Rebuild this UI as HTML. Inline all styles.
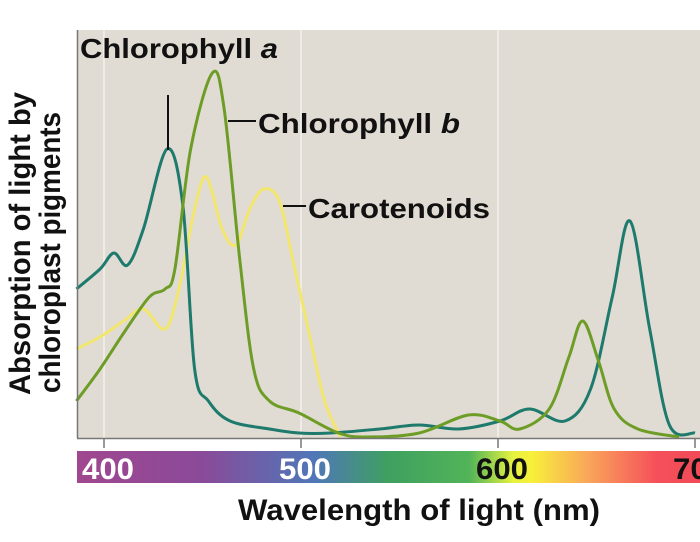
<!DOCTYPE html>
<html><head><meta charset="utf-8"><style>
body{margin:0;background:#fff;width:700px;height:537px;overflow:hidden}
text{font-family:"Liberation Sans",sans-serif;font-weight:bold}
</style></head><body>
<svg id="chart" width="700" height="537" viewBox="0 0 700 537" xmlns="http://www.w3.org/2000/svg">
<defs>
<linearGradient id="spec" x1="0" x2="1" y1="0" y2="0">
<stop offset="0" stop-color="#a0478f"/><stop offset="0.2" stop-color="#8a4a99"/><stop offset="0.38" stop-color="#4f77b8"/><stop offset="0.5" stop-color="#3fa060"/><stop offset="0.63" stop-color="#52b458"/><stop offset="0.7" stop-color="#e6f240"/><stop offset="0.73" stop-color="#f7f03a"/><stop offset="0.82" stop-color="#f9a65a"/><stop offset="0.93" stop-color="#f5505a"/><stop offset="1" stop-color="#f24a58"/>
</linearGradient>
</defs>
<rect x="77" y="30" width="623" height="408" fill="#e1dcd3"/>
<g id="grid"></g>
<g id="series"></g>
<line x1="77.5" y1="30" x2="77.5" y2="438" stroke="#777" stroke-width="1.5"/>
<line x1="77" y1="438.5" x2="700" y2="438.5" stroke="#777" stroke-width="1.5"/>
<rect x="77" y="451" width="623" height="32" fill="url(#spec)"/>
<g id="ticks"></g>
<text x="238" y="520" font-size="30" textLength="362" lengthAdjust="spacingAndGlyphs" fill="#111">Wavelength of light (nm)</text>
<g transform="translate(0,0) rotate(-90)">
<text x="-395" y="30" font-size="30" textLength="303" lengthAdjust="spacingAndGlyphs" fill="#111">Absorption of light by</text>
<text x="-393" y="60" font-size="30" textLength="281" lengthAdjust="spacingAndGlyphs" fill="#111">chloroplast pigments</text>
</g>
<text x="80" y="58" font-size="28" textLength="198" lengthAdjust="spacingAndGlyphs" fill="#111">Chlorophyll <tspan font-style="italic">a</tspan></text>
<line x1="168" y1="95" x2="168" y2="150" stroke="#111" stroke-width="2"/>
<text x="258" y="133" font-size="28" textLength="202" lengthAdjust="spacingAndGlyphs" fill="#111">Chlorophyll <tspan font-style="italic">b</tspan></text>
<line x1="228" y1="121" x2="256" y2="121" stroke="#111" stroke-width="2"/>
<text x="308" y="218" font-size="28" textLength="182" lengthAdjust="spacingAndGlyphs" fill="#111">Carotenoids</text>
<line x1="283" y1="206" x2="306" y2="206" stroke="#111" stroke-width="2"/>
</svg>
<script>
const tickValues=[400,500,600,700];
const tickColors=["#fff","#fff","#111","#111"];
const chlAnm=[386,398,405,412,420,432,440,446,453,464,484,499,515,540,560,580,601,616,634,647,658,667,677,687,700];
const chlAval=[37,42,46,43,52,72,58,17,9,4,2,1,1,2,3,2,4,7,4,12,35,54,27,3,1];
const chlBnm=[386,398,410,423,431,436,444,455,461,469,476,484,499,519,534,560,585,601,611,626,636,643,651,659,671,692];
const chlBval=[9,17,26,35,37,42,72,91,82,44,17,9,6,1,0,1,5.5,4,2,7,20,29,19,7,2,0];
const carNm=[386,398,410,420,431,438,446,452,460,467,474,481,489,496,505,512,520];
const carVal=[22,25,29,32,27,37,57,65,52,48,57,62,59,44,24,9,0];
const NS="http://www.w3.org/2000/svg";
const xS=nm=>104+(nm-400)*1.97;
const yS=v=>437-v*4;
function smooth(xs,ys){
  const p=xs.map((x,i)=>[xS(x),yS(ys[i])]);
  let d="M"+p[0][0]+","+p[0][1];
  for(let i=0;i<p.length-1;i++){
    const a=p[Math.max(i-1,0)],b=p[i],c=p[i+1],e=p[Math.min(i+2,p.length-1)];
    const c1=[b[0]+(c[0]-a[0])/6,b[1]+(c[1]-a[1])/6],c2=[c[0]-(e[0]-b[0])/6,c[1]-(e[1]-b[1])/6];
    d+=" C"+c1+" "+c2+" "+c;
  }
  return d;
}
const grid=document.getElementById("grid"),ticks=document.getElementById("ticks"),ser=document.getElementById("series");
tickValues.forEach((t,i)=>{
  const x=xS(t);
  if(t<700){const g=document.createElementNS(NS,"line");
  
  
  g.setAttribute("x1",x);g.setAttribute("x2",x);g.setAttribute("y1",30);g.setAttribute("y2",438);g.setAttribute("stroke","#f4f2ee");g.setAttribute("stroke-width","1.5");grid.appendChild(g);}
  const k=document.createElementNS(NS,"line");
  
  
  k.setAttribute("x1",x);k.setAttribute("x2",x);k.setAttribute("y1",438);k.setAttribute("y2",448);k.setAttribute("stroke","#777");k.setAttribute("stroke-width","1.5");ticks.appendChild(k);
  const l=document.createElementNS(NS,"text");
  
  
  l.setAttribute("x",x-22);l.setAttribute("y",479);l.setAttribute("font-size","30");l.setAttribute("textLength","52");l.setAttribute("lengthAdjust","spacingAndGlyphs");l.setAttribute("fill",tickColors[i]);l.textContent=t;ticks.appendChild(l);
});
function addSeries(name,xs,ys,color){
  const p=document.createElementNS(NS,"path");
  
  
  p.setAttribute("d",smooth(xs,ys));p.setAttribute("fill","none");p.setAttribute("stroke",color);p.setAttribute("stroke-width","3");
  ser.appendChild(p);
}
addSeries('line-carotenoids',carNm,carVal,'#f2e66e');
addSeries('line-chlorophyll-a',chlAnm,chlAval,'#1d7a6c');
addSeries('line-chlorophyll-b',chlBnm,chlBval,'#6e9d27');
</script>
</body></html>
